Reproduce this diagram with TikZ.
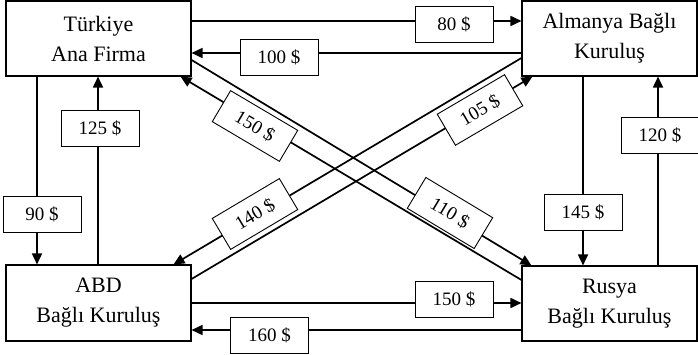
\documentclass[tikz,border=0pt]{standalone}
\usepackage{fontspec}
\setmainfont{Liberation Serif}
\usetikzlibrary{arrows.meta}
\begin{document}
\begin{tikzpicture}[x=1pt,y=-1pt,
  ent/.style={draw, line width=1.1pt, minimum width=185pt, minimum height=75pt, inner sep=0pt, align=center, font=\fontsize{22}{30}\selectfont},
  lbl/.style={draw, fill=white, line width=0.9pt, minimum width=78pt, minimum height=36pt, inner sep=0pt, font=\fontsize{19}{22}\selectfont},
  flow/.style={line width=1.7pt, -{Triangle[length=11pt,width=10pt]}}]
\useasboundingbox (0,0) rectangle (698,355);

\node[ent] (tr) at (98.5,38.5) {Türkiye\\Ana Firma};
\node[ent, minimum width=175pt] (al) at (609.5,38.5) {Almanya Bağlı\\Kuruluş};
\node[ent, minimum height=76pt] (abd) at (98.5,303) {ABD\\Bağlı Kuruluş};
\node[ent, minimum width=175pt] (ru) at (609.5,303.5) {Rusya\\Bağlı Kuruluş};

% horizontal
\draw[flow] (tr.east |- 0,21) -- (al.west |- 0,21);
\draw[flow] (al.west |- 0,53) -- (tr.east |- 0,53);
\draw[flow] (abd.east |- 0,303) -- (ru.west |- 0,303);
\draw[flow] (ru.west |- 0,330) -- (abd.east |- 0,330);
% vertical
\draw[flow] (tr.south -| 37,0) -- (abd.north -| 37,0);
\draw[flow] (abd.north -| 98,0) -- (tr.south -| 98,0);
\draw[flow] (al.south -| 583,0) -- (ru.north -| 583,0);
\draw[flow] (ru.north -| 658,0) -- (al.south -| 658,0);
% diagonals
\draw[flow] (tr.east |- 0,60) -- ([xshift=10pt]ru.north west);
\draw[flow] (ru.west |- 0,280) -- ([xshift=-11pt]tr.south east);
\draw[flow] (al.west |- 0,58) -- ([xshift=-18pt]abd.north east);
\draw[flow] (abd.east |- 0,279) -- ([xshift=11pt]al.south west);

% labels
\node[lbl] (l80) at (454,24) {80 \$};
\node[lbl] (l100) at (279,57.5) {100 \$};
\node[lbl] (l90) at (42,214.5) {90 \$};
\node[lbl] (l125) at (100,128) {125 \$};
\node[lbl] (l145) at (583,212.5) {145 \$};
\node[lbl] (l120) at (660,135) {120 \$};
\node[lbl] (l150b) at (454,299) {150 \$};
\node[lbl] (l160) at (269.5,335) {160 \$};
\node[lbl, rotate=-30.6] (l150d) at (255,126) {150 \$};
\node[lbl, rotate=-31] (l110) at (450,213) {110 \$};
\node[lbl, rotate=30.7] (l140) at (255,214) {140 \$};
\node[lbl, rotate=30.4] (l105) at (480,110) {105 \$};
\end{tikzpicture}
\end{document}
